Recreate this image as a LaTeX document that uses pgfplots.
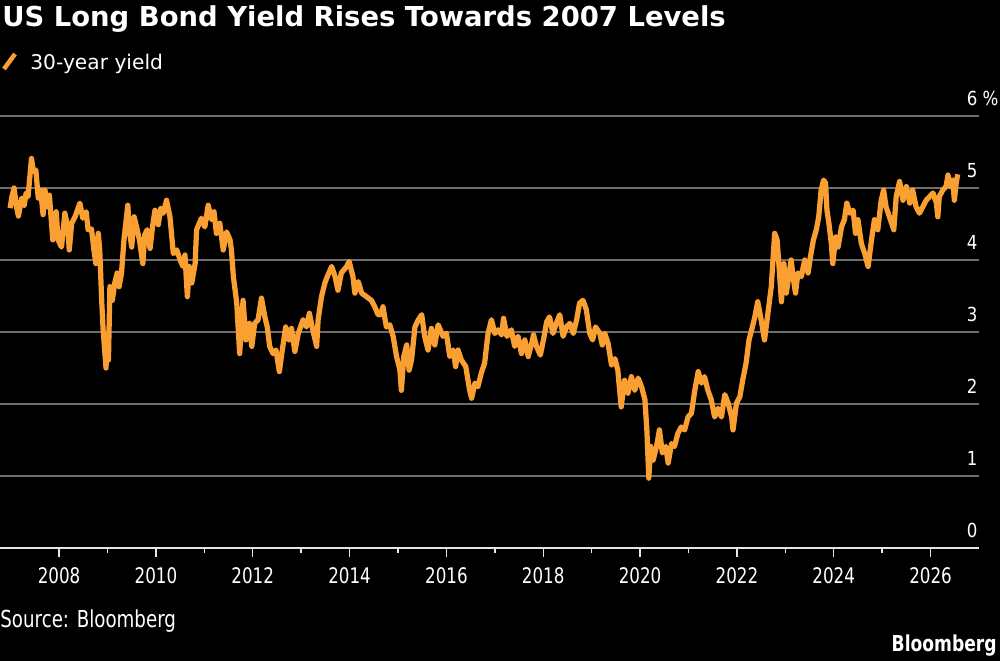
\documentclass[border=0pt]{standalone}
\usepackage{pgfplots}
\pgfplotsset{compat=1.18}
\usepackage{pgfplotstable}
\usepackage{fontspec}
\setmainfont{DejaVu Sans}
\newfontfamily\condfont[FakeStretch=0.78]{DejaVu Sans}
\newfontfamily\ylabfont[FakeStretch=0.86]{DejaVu Sans}
\newfontfamily\legfont{DejaVu Sans}
\definecolor{bbgorange}{RGB}{250,160,50}
\definecolor{gridgray}{RGB}{110,110,110}
\definecolor{axwhite}{RGB}{230,230,230}

\pgfplotstableread{
year yield
2006.99 4.72
2007.02 4.86
2007.07 5.00
2007.12 4.74
2007.16 4.61
2007.23 4.86
2007.28 4.76
2007.32 4.93
2007.36 4.88
2007.43 5.41
2007.47 5.23
2007.52 5.25
2007.57 4.86
2007.62 4.97
2007.67 4.63
2007.71 4.97
2007.76 4.74
2007.80 4.90
2007.87 4.28
2007.94 4.67
2007.98 4.28
2008.05 4.18
2008.12 4.65
2008.18 4.46
2008.21 4.14
2008.26 4.51
2008.33 4.60
2008.43 4.79
2008.49 4.58
2008.56 4.67
2008.60 4.42
2008.67 4.43
2008.72 4.14
2008.76 3.95
2008.81 4.37
2008.84 4.14
2008.88 3.44
2008.91 3.03
2008.97 2.50
2008.99 2.89
2009.02 2.61
2009.05 3.63
2009.10 3.44
2009.15 3.68
2009.20 3.82
2009.24 3.63
2009.29 3.82
2009.34 4.28
2009.42 4.76
2009.45 4.42
2009.50 4.18
2009.55 4.60
2009.60 4.46
2009.66 4.28
2009.73 3.95
2009.77 4.35
2009.82 4.42
2009.88 4.16
2009.93 4.46
2009.98 4.69
2010.05 4.49
2010.10 4.72
2010.15 4.65
2010.22 4.83
2010.29 4.60
2010.36 4.09
2010.43 4.14
2010.50 4.00
2010.56 3.91
2010.60 4.07
2010.65 3.49
2010.69 3.91
2010.74 3.68
2010.81 3.95
2010.84 4.42
2010.94 4.58
2011.01 4.46
2011.08 4.76
2011.15 4.56
2011.20 4.67
2011.25 4.37
2011.32 4.51
2011.39 4.14
2011.46 4.39
2011.53 4.28
2011.56 4.14
2011.60 3.77
2011.67 3.40
2011.73 2.70
2011.80 3.44
2011.86 2.89
2011.93 3.12
2011.98 2.80
2012.04 3.12
2012.11 3.17
2012.18 3.47
2012.25 3.21
2012.30 3.07
2012.35 2.80
2012.42 2.70
2012.48 2.75
2012.55 2.45
2012.60 2.70
2012.68 3.07
2012.75 2.89
2012.80 3.05
2012.87 2.73
2012.94 2.98
2013.04 3.17
2013.11 3.07
2013.17 3.26
2013.24 3.03
2013.32 2.80
2013.35 3.17
2013.42 3.49
2013.49 3.68
2013.54 3.77
2013.63 3.91
2013.70 3.77
2013.76 3.58
2013.83 3.82
2013.94 3.91
2013.99 3.98
2014.07 3.77
2014.11 3.54
2014.18 3.70
2014.25 3.54
2014.35 3.49
2014.45 3.44
2014.52 3.35
2014.59 3.24
2014.64 3.24
2014.69 3.35
2014.76 3.07
2014.83 3.10
2014.90 2.94
2014.97 2.66
2015.04 2.47
2015.07 2.19
2015.12 2.66
2015.18 2.82
2015.23 2.47
2015.28 2.61
2015.35 3.07
2015.42 3.17
2015.49 3.24
2015.55 2.94
2015.62 2.75
2015.69 3.05
2015.76 2.82
2015.83 3.10
2015.93 2.94
2016.00 2.98
2016.07 2.66
2016.14 2.75
2016.19 2.52
2016.24 2.75
2016.31 2.61
2016.40 2.52
2016.48 2.19
2016.52 2.08
2016.59 2.29
2016.65 2.24
2016.72 2.43
2016.79 2.57
2016.86 2.98
2016.93 3.17
2017.00 2.98
2017.07 3.03
2017.14 2.96
2017.18 3.19
2017.25 2.94
2017.34 3.03
2017.41 2.80
2017.48 2.94
2017.55 2.70
2017.62 2.89
2017.69 2.66
2017.76 2.84
2017.80 2.96
2017.86 2.80
2017.94 2.68
2018.01 2.91
2018.07 3.14
2018.13 3.21
2018.20 2.98
2018.27 3.12
2018.34 3.24
2018.41 2.94
2018.48 3.07
2018.55 3.12
2018.62 2.98
2018.69 3.17
2018.75 3.40
2018.82 3.44
2018.89 3.31
2018.96 2.98
2019.02 2.89
2019.08 3.07
2019.17 2.98
2019.22 2.82
2019.27 2.98
2019.34 2.84
2019.41 2.54
2019.48 2.63
2019.54 2.47
2019.61 1.96
2019.68 2.33
2019.75 2.15
2019.82 2.38
2019.89 2.19
2019.96 2.36
2020.03 2.24
2020.10 2.06
2020.14 1.64
2020.18 0.97
2020.22 1.41
2020.27 1.22
2020.34 1.41
2020.40 1.64
2020.46 1.32
2020.53 1.41
2020.58 1.18
2020.65 1.45
2020.71 1.41
2020.78 1.59
2020.85 1.68
2020.92 1.64
2020.99 1.82
2021.06 1.87
2021.13 2.19
2021.20 2.45
2021.27 2.29
2021.33 2.38
2021.40 2.19
2021.47 2.06
2021.54 1.82
2021.61 1.94
2021.68 1.82
2021.75 2.13
2021.82 2.01
2021.89 1.82
2021.92 1.64
2021.99 2.01
2022.06 2.10
2022.12 2.33
2022.19 2.57
2022.25 2.89
2022.32 3.07
2022.37 3.21
2022.43 3.42
2022.50 3.17
2022.57 2.89
2022.64 3.26
2022.71 3.63
2022.78 4.37
2022.83 4.28
2022.87 3.91
2022.92 3.42
2022.97 3.95
2023.02 3.54
2023.07 3.77
2023.12 4.00
2023.17 3.72
2023.21 3.54
2023.26 3.82
2023.33 3.77
2023.40 4.00
2023.47 3.82
2023.52 4.05
2023.58 4.28
2023.64 4.42
2023.69 4.60
2023.74 4.97
2023.79 5.11
2023.83 5.07
2023.86 4.69
2023.90 4.51
2023.95 4.23
2023.98 3.95
2024.04 4.32
2024.09 4.18
2024.16 4.46
2024.22 4.56
2024.27 4.79
2024.33 4.65
2024.40 4.69
2024.45 4.37
2024.50 4.56
2024.57 4.23
2024.64 4.09
2024.71 3.91
2024.78 4.28
2024.84 4.56
2024.91 4.42
2024.98 4.83
2025.03 4.97
2025.08 4.74
2025.15 4.60
2025.24 4.42
2025.29 4.88
2025.36 5.09
2025.43 4.83
2025.50 5.02
2025.57 4.79
2025.63 4.97
2025.70 4.74
2025.77 4.65
2025.84 4.74
2025.91 4.83
2025.98 4.88
2026.05 4.93
2026.12 4.79
2026.15 4.60
2026.18 4.88
2026.25 4.97
2026.32 5.02
2026.36 5.18
2026.41 5.02
2026.46 5.11
2026.49 4.83
2026.53 5.07
2026.56 5.19
}\yielddata

\begin{document}
\begin{tikzpicture}
% background / page frame: 1000 x 661 px at 0.02 cm per px
\fill[black] (0,-2.26) rectangle (20,10.96);
\useasboundingbox (0,-2.26) rectangle (20,10.96);

\begin{axis}[
  at={(0,0)}, anchor=south west,
  scale only axis,
  width=19.58cm, height=8.64cm,
  xmin=2006.78, xmax=2027.0,
  ymin=0, ymax=6,
  axis line style={draw=none},
  xtick={2008,2010,2012,2014,2016,2018,2020,2022,2024,2026},
  xticklabels={2008,2010,2012,2014,2016,2018,2020,2022,2024,2026},
  minor xtick={2009,2011,2013,2015,2017,2019,2021,2023,2025},
  xtick pos=bottom,
  tick align=outside,
  major tick length=0.17cm,
  minor tick length=0.10cm,
  every tick/.style={draw=axwhite, line width=0.8pt},
  xticklabel style={font=\condfont\fontsize{12.2}{14}\selectfont, text=white, anchor=north, inner sep=0pt, yshift=-0.22cm},
  ytick={0,1,2,3,4,5,6},
  yticklabels={0,1,2,3,4,5,{6 \%}},
  ytick style={draw=none},
  yticklabel pos=right,
  yticklabel style={font=\ylabfont\fontsize{11}{13}\selectfont, text=white, anchor=south west, inner sep=0pt, xshift=-0.42cm, yshift=0.2cm},
  ymajorgrids,
  major grid style={draw=gridgray, line width=0.85pt},
  clip=false,
]
\addplot[draw=bbgorange, line width=0.105cm, line join=round] table[x=year, y=yield] {\yielddata};
\draw[axwhite, line width=1pt] (rel axis cs:0,0) -- (rel axis cs:1,0);
\end{axis}

% title
\node[anchor=base west, inner sep=0pt, text=white, font=\bfseries\fontsize{15.6}{18}\selectfont] at (0.04,10.42) {US Long Bond Yield Rises Towards 2007 Levels};
% legend
\draw[bbgorange, line width=0.09cm] (0.08,9.58) -- (0.30,9.88);
\node[anchor=base west, inner sep=0pt, text=white, font=\legfont\fontsize{11.5}{14}\selectfont] at (0.60,9.56) {30-year yield};
% source and logo
\node[anchor=base west, inner sep=0pt, text=white, font=\condfont\fontsize{13.3}{15}\selectfont] at (0.0,-1.60) {Source: Bloomberg};
\node[anchor=base east, inner sep=0pt, text=white, font=\condfont\bfseries\fontsize{12.5}{14}\selectfont] at (19.94,-2.08) {Bloomberg};
\end{tikzpicture}
\end{document}
